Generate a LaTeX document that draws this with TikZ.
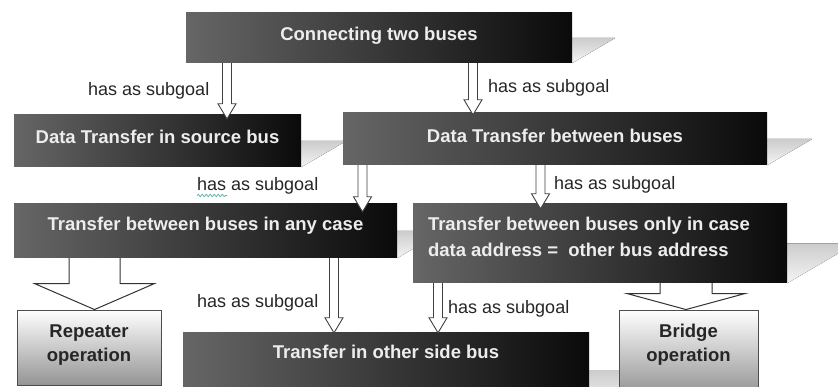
\documentclass[tikz,border=0pt]{standalone}
\usepackage{fontspec}
\setmainfont{Liberation Sans}
\usetikzlibrary{calc,decorations.pathmorphing}
\pgfdeclarelayer{background}
\pgfsetlayers{background,main}
\definecolor{squig}{RGB}{90,165,160}

\tikzset{
  goalbox/.style={rectangle, inner sep=0pt, left color=black!60, right color=black!96},
  opbox/.style={rectangle, inner sep=0pt, draw=black!70, line width=0.9pt,
    top color=white, bottom color=black!42},
  goaltext/.style={inner sep=0pt, text=white!93!black,
    font=\fontsize{18.5}{22}\selectfont\bfseries},
  optext/.style={inner sep=0pt, anchor=base, text=black!85,
    font=\fontsize{18.5}{22}\selectfont\bfseries},
  reltext/.style={inner sep=0pt, anchor=base west, text=black!85,
    font=\fontsize{18}{22}\selectfont},
  dropshade/.style={top color=black!20, bottom color=black!4},
  hollow/.style n args={3}{to path={let \p1=(\tikztostart), \p2=(\tikztotarget) in
     (\x1-#1,\y1) -- (\x1-#1,\y2+#3) -- (\x1-#2,\y2+#3) -- (\x2,\y2)
     -- (\x1+#2,\y2+#3) -- (\x1+#1,\y2+#3) -- (\x1+#1,\y1)}},
  subgoal/.style={hollow={4.5pt}{9pt}{15pt}, draw=black!75, line width=0.9pt, fill=white},
  specialise/.style n args={3}{hollow={#1}{#2}{#3}, draw=black!80, line width=1pt, fill=white},
  squiggle/.style={draw=squig, line width=0.7pt, decorate,
    decoration={snake, amplitude=1.1pt, segment length=4pt}},
}

\begin{document}
\begin{tikzpicture}[x=1pt,y=-1pt]
\useasboundingbox (0,0) rectangle (838,387);
\clip (0,0) rectangle (838,387);

% goal boxes
\node[goalbox, minimum width=386pt, minimum height=50pt] (b1) at (379,38) {};
\node[goalbox, minimum width=287pt, minimum height=52pt] (b2) at (157.5,141) {};
\node[goalbox, minimum width=424pt, minimum height=52pt] (b3) at (555,139) {};
\node[goalbox, minimum width=383pt, minimum height=54pt] (b4) at (205.5,231) {};
\node[goalbox, minimum width=374pt, minimum height=79pt] (b5) at (600,243.5) {};
\node[goalbox, minimum width=406pt, minimum height=74pt] (b6) at (386,370) {};

% operation boxes
\node[opbox, minimum width=144pt, minimum height=75pt] (rep) at (89,347.5) {};
\node[opbox, minimum width=139pt, minimum height=84pt] (br) at (688.5,352) {};

% white page and drop shadows behind the goal boxes
\begin{pgfonlayer}{background}
  \fill[white] (0,0) rectangle (838,387);
  \foreach \b/\l in {b1/43, b2/45, b3/45, b4/46, b5/68, b6/64} {
    \fill[dropshade] (\b.east) -- ++(\l,0) -- (\b.south east) -- cycle;
  }
\end{pgfonlayer}

% box texts
\node[goaltext, anchor=base] (t1) at ([yshift=-27.5pt]b1.north) {Connecting two buses};
\node[goaltext, anchor=base] (t2) at ([yshift=-29pt]b2.north) {Data Transfer in source bus};
\node[goaltext, anchor=base] (t3) at ([yshift=-30pt]b3.north) {Data Transfer between buses};
\node[goaltext, anchor=base] (t4) at ([yshift=-27pt]b4.north) {Transfer between buses in any case};
\node[goaltext, anchor=base west] (t5a) at ([xshift=15pt,yshift=-27pt]b5.north west)
  {Transfer between buses only in case};
\node[goaltext, anchor=base west] (t5b) at ([xshift=15pt,yshift=-53pt]b5.north west)
  {data address =\ \ other bus address};
\node[goaltext, anchor=base] (t6) at ([yshift=-26pt]b6.north) {Transfer in other side bus};
\node[optext] (r1) at ([yshift=-28pt]rep.north) {Repeater};
\node[optext] (r2) at ([yshift=-52pt]rep.north) {operation};
\node[optext] (g1) at ([yshift=-28pt]br.north) {Bridge};
\node[optext] (g2) at ([yshift=-52pt]br.north) {operation};

% subgoal arrows
\coordinate (x1) at (227,0);
\coordinate (x2) at (473,0);
\coordinate (x3) at (362.5,0);
\coordinate (x4) at (540.5,0);
\coordinate (x5) at (334,0);
\coordinate (x6) at (438,0);
\draw[subgoal] (x1 |- b1.south) to ([yshift=-4pt]x1 |- b2.north);
\draw[subgoal] (x2 |- b1.south) to ([yshift=-2pt]x2 |- b3.north);
\draw[subgoal] (x3 |- b3.south) to ([yshift=-8pt]x3 |- b4.north);
\draw[subgoal] (x4 |- b3.south) to ([yshift=-5pt]x4 |- b5.north);
\draw[subgoal] (x5 |- b4.south) to (x5 |- b6.north);
\draw[subgoal] (x6 |- b5.south) to (x6 |- b6.north);

% specialisation arrows
\coordinate (xr) at (94.5,0);
\coordinate (xb) at (686,0);
\draw[specialise={25.5pt}{60pt}{26pt}] (xr |- b4.south) to (xr |- rep.north);
\draw[specialise={26pt}{59pt}{16pt}] (xb |- b5.south) to (xb |- br.north);

% relation labels
\node[reltext] (l1) at (88,96) {has as subgoal};
\node[reltext] (l2) at (488,93) {has as subgoal};
\node[reltext] (l3) at (197,191) {has as subgoal};
\node[reltext] (l4) at (554,190) {has as subgoal};
\node[reltext] (l5) at (197,308) {has as subgoal};
\node[reltext] (l6) at (448,314) {has as subgoal};
\draw[squiggle] ([yshift=-4.5pt]l3.base west) -- ++(30,0);
\end{tikzpicture}
\end{document}
